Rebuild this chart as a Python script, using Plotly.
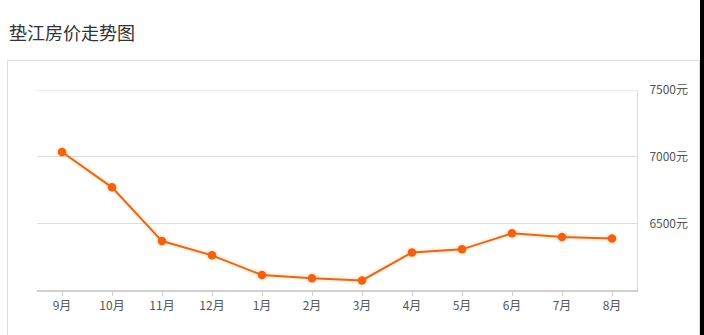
import plotly.graph_objects as go

months = ["9月", "10月", "11月", "12月", "1月", "2月", "3月", "4月", "5月", "6月", "7月", "8月"]
prices = [7035, 6770, 6367, 6260, 6112, 6088, 6072, 6282, 6305, 6425, 6397, 6387]
y_ticks = [6500, 7000, 7500]
y_tick_text = ["6500元", "7000元", "7500元"]
title_text = "垫江房价走势图"

W, H = 704, 335
L, R, T, B = 37, 637, 90, 290
pw, ph = R - L, B - T

def px(x):
    return (x - L) / pw

def py(y):
    return (B - y) / ph

fig = go.Figure()
# soft glow under the line
fig.add_trace(go.Scatter(
    x=months, y=prices, mode="lines+markers",
    line=dict(color="rgba(255,180,100,0.18)", width=6),
    marker=dict(size=13, color="rgba(255,180,100,0.18)"),
    hoverinfo="skip", showlegend=False,
))
fig.add_trace(go.Scatter(
    x=months, y=prices, mode="lines+markers",
    line=dict(color="#dd6a1e", width=2),
    marker=dict(size=8.5, color="#f06212"),
    showlegend=False,
))

font = "Noto Sans CJK SC, Microsoft YaHei, sans-serif"

fig.update_layout(
    width=W, height=H,
    margin=dict(l=L, r=W - R, t=T, b=H - B, pad=0),
    paper_bgcolor="white", plot_bgcolor="white",
    font=dict(family=font, size=12, color="#555"),
    xaxis=dict(
        type="category", range=[-0.5, 11.5],
        showgrid=False, showline=True, linecolor="#d0d0d0", linewidth=2,
        ticks="outside", ticklen=4, tickcolor="#d0d0d0",
        tickfont=dict(size=12, color="#555"), zeroline=False, fixedrange=True,
    ),
    yaxis=dict(
        side="right", range=[6000, 7500],
        tickvals=y_ticks, ticktext=y_tick_text,
        showgrid=True, gridcolor="#dedede", gridwidth=1,
        showline=True, linecolor="#dedede", linewidth=1,
        ticks="", ticklabelstandoff=9,
        tickfont=dict(size=12, color="#555"), zeroline=False, fixedrange=True,
    ),
    shapes=[
        dict(type="rect", xref="paper", yref="paper",
             x0=px(7.5), x1=px(699.5), y0=py(345), y1=py(60.5),
             line=dict(color="#dddddd", width=1), fillcolor="rgba(0,0,0,0)", layer="below"),
        dict(type="rect", xref="paper", yref="paper",
             x0=px(700), x1=px(706), y0=py(340), y1=py(-5),
             line=dict(width=0), fillcolor="#000000"),
        dict(type="line", xref="paper", yref="y",
             x0=px(35), x1=1, y0=y_ticks[-1], y1=y_ticks[-1],
             line=dict(color="#dedede", width=1), layer="below"),
    ],
    annotations=[
        dict(text=title_text, xref="paper", yref="paper", x=px(7), y=py(32),
             xanchor="left", yanchor="middle", showarrow=False,
             font=dict(family=font, size=18, color="#333")),
    ],
)

fig.write_html("out.html")
